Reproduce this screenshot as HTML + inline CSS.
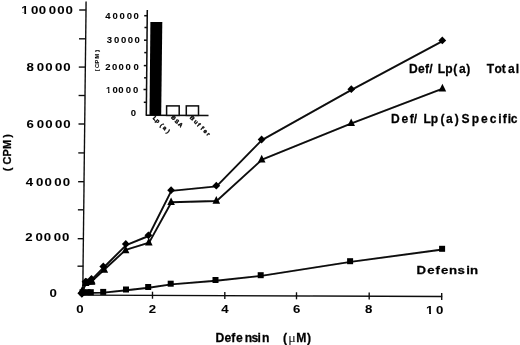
<!DOCTYPE html>
<html><head><meta charset="utf-8"><title>Defensin binding</title>
<style>
html,body{margin:0;padding:0;background:#fff;}
body{width:520px;height:345px;overflow:hidden;}
svg{display:block;}
text{font-family:"Liberation Sans",Arial,Helvetica,sans-serif;font-weight:bold;fill:#050505;stroke:#050505;stroke-width:0.06px;}
.ax{stroke:#0a0a0a;stroke-width:1.35;fill:none;}
.ln{stroke:#0a0a0a;stroke-width:1.9;fill:none;stroke-linejoin:round;}
.mk{fill:#050505;}
</style></head><body>
<svg width="520" height="345" viewBox="0 0 520 345">
<rect width="520" height="345" fill="#fff"/>
<filter id="soft" x="0" y="0" width="520" height="345" filterUnits="userSpaceOnUse"><feGaussianBlur stdDeviation="0.38"/></filter>
<g filter="url(#soft)">

<g class="ax">
<path d="M86.1,1.5L82.75,295.2"/>
<path d="M81.5,295.05L442.2,296.5" style="stroke-width:1.35"/>
<path d="M77.5,266.2L83.1,266.2"/>
<path d="M77.7,238.7L83.4,238.7"/>
<path d="M77.9,209.8L83.7,209.8"/>
<path d="M78.1,181.7L84.0,181.7"/>
<path d="M78.3,152.9L84.4,152.9"/>
<path d="M78.5,124.0L84.7,124.0"/>
<path d="M78.6,95.5L85.0,95.5"/>
<path d="M78.8,67.1L85.4,67.1"/>
<path d="M79.0,38.8L85.7,38.8"/>
<path d="M79.2,10.0L86.0,10.0"/>
<path d="M152.5,291.7L152.5,298.7"/>
<path d="M224.8,292.0L224.8,299.0"/>
<path d="M296.5,292.3L296.5,299.3"/>
<path d="M369.2,292.6L369.2,299.6"/>
<path d="M441.7,292.9L441.7,299.9"/>
</g>
<g class="ln">
<polyline points="82.1,294.0 85.7,282.4 91.7,279.6 103.7,267.5 126.2,245.1 148.6,236.0 171.3,190.9 216.5,186.4 261.8,140.2 351.5,89.9 442.5,41.1"/>
<polyline points="82.5,290.8 86.0,283.1 92.0,281.0 104.4,269.5 125.7,249.9 149.1,242.6 171.4,202.3 216.6,201.0 262.0,159.6 351.5,123.3 442.7,88.6"/>
<polyline points="83.0,293.0 88.0,292.9 91.3,292.9 103.7,292.6 126.5,290.2 148.7,287.7 171.2,284.4 216.0,280.7 261.2,275.9 350.6,261.9 442.6,249.5"/>
</g>
<g class="mk">
<path d="M82.6,285.2L85.9,278L88.6,279.2L91,275.8L95.4,284.8Z"/>
<path d="M77.4,293.2L81.9,288.7L86.4,293.2L81.9,297.7Z"/>
<path d="M78.0,293.3L81.9,289.4L85.8,293.3L81.9,297.2Z"/>
<path d="M81.6,281.7L85.5,277.8L89.4,281.7L85.5,285.6Z"/>
<path d="M87.6,278.9L91.5,275.0L95.4,278.9L91.5,282.8Z"/>
<path d="M99.4,266.5L103.3,262.6L107.2,266.5L103.3,270.4Z"/>
<path d="M121.9,244.0L125.8,240.1L129.7,244.0L125.8,247.9Z"/>
<path d="M144.5,235.3L148.4,231.4L152.3,235.3L148.4,239.2Z"/>
<path d="M167.2,190.2L171.1,186.3L175.0,190.2L171.1,194.1Z"/>
<path d="M212.4,185.7L216.3,181.8L220.2,185.7L216.3,189.6Z"/>
<path d="M257.7,139.5L261.6,135.6L265.5,139.5L261.6,143.4Z"/>
<path d="M347.4,89.2L351.3,85.3L355.2,89.2L351.3,93.1Z"/>
<path d="M438.4,40.4L442.3,36.5L446.2,40.4L442.3,44.3Z"/>
<path d="M78.4,293.6L82.2,285.9L86.0,293.6Z"/>
<path d="M81.9,285.9L85.7,278.2L89.5,285.9Z"/>
<path d="M87.9,283.8L91.7,276.1L95.5,283.8Z"/>
<path d="M100.5,272.8L104.3,265.1L108.1,272.8Z"/>
<path d="M121.8,253.3L125.6,245.6L129.4,253.3Z"/>
<path d="M145.0,245.4L148.8,237.7L152.6,245.4Z"/>
<path d="M167.3,205.1L171.1,197.4L174.9,205.1Z"/>
<path d="M212.5,203.8L216.3,196.1L220.1,203.8Z"/>
<path d="M257.9,162.4L261.7,154.7L265.5,162.4Z"/>
<path d="M347.4,126.1L351.2,118.4L355.0,126.1Z"/>
<path d="M438.6,91.4L442.4,83.7L446.2,91.4Z"/>
<rect x="79.5" y="289.3" width="6.0" height="6.0"/>
<rect x="84.5" y="289.2" width="6.0" height="6.0"/>
<rect x="87.8" y="289.2" width="6.0" height="6.0"/>
<rect x="100.2" y="288.9" width="6.0" height="6.0"/>
<rect x="123.0" y="286.5" width="6.0" height="6.0"/>
<rect x="145.2" y="284.0" width="6.0" height="6.0"/>
<rect x="167.7" y="280.7" width="6.0" height="6.0"/>
<rect x="212.5" y="277.0" width="6.0" height="6.0"/>
<rect x="257.7" y="272.2" width="6.0" height="6.0"/>
<rect x="347.1" y="258.2" width="6.0" height="6.0"/>
<rect x="439.1" y="245.8" width="6.0" height="6.0"/>
</g>
<text transform="scale(1.15,1)" clip-path="url(#c0)" style="font-size:11.5px" x="18.52" y="14.0">1</text>
<text transform="scale(1.15,1)" style="font-size:11.5px" x="26.94 33.64 42.38 49.77 57.03" y="14.0">00000</text>
<text transform="scale(1.15,1)" style="font-size:11.5px" x="23.01 31.90 39.29 47.72 55.03" y="70.6">80000</text>
<text transform="scale(1.15,1)" style="font-size:11.5px" x="23.02 31.90 39.29 47.72 55.03" y="128.2">60000</text>
<text transform="scale(1.15,1)" style="font-size:11.5px" x="22.35 31.38 38.64 47.11 54.51" y="185.9">40000</text>
<text transform="scale(1.15,1)" style="font-size:11.5px" x="22.05 30.81 38.11 46.77 53.85" y="241.3">20000</text>
<text transform="scale(1.15,1)" style="font-size:11.5px" x="43.07" y="297.4">0</text>
<text transform="scale(1.15,1)" style="font-size:11.5px" x="66.33" y="313.3">0</text>
<text transform="scale(1.15,1)" style="font-size:11.5px" x="129.27" y="313.2">2</text>
<text transform="scale(1.15,1)" style="font-size:11.5px" x="192.49" y="313.3">4</text>
<text transform="scale(1.15,1)" style="font-size:11.5px" x="254.84" y="313.3">6</text>
<text transform="scale(1.15,1)" style="font-size:11.5px" x="317.36" y="313.3">8</text>
<text transform="scale(1.15,1)" clip-path="url(#c1)" style="font-size:11.5px" x="370.52" y="313.7">1</text>
<text transform="scale(1.15,1)" style="font-size:11.5px" x="379.07" y="313.7">0</text>
<text transform="scale(0.99,1)" style="font-size:12.3px;stroke:#050505;stroke-width:0.26px" x="217.68 226.85 233.59 238.47 247.13 254.14 260.22 264.60" y="341.6">Defensin</text>
<text transform="scale(0.99,1)" style="font-size:12.3px;stroke:#050505;stroke-width:0.26px" x="285.83" y="341.6">(</text>
<text transform="scale(1.19,1)" style="font-size:11.8px;font-weight:normal;font-family:&quot;Liberation Serif&quot;,serif;fill:#222" x="242.32" y="341.6">μ</text>
<text transform="scale(0.99,1)" style="font-size:12.3px;stroke:#050505;stroke-width:0.26px" x="299.37 310.12" y="341.6">M)</text>
<text transform="translate(11.3,171.3) rotate(-90) scale(1.0,1)" style="font-size:11.0px;stroke:#050505;stroke-width:0.26px" x="0.15 6.90 14.70 22.32 33.54" y="0.0">(CPM)</text>
<text transform="scale(0.98,1)" style="font-size:12.3px;stroke:#050505;stroke-width:0.26px" x="417.40 426.60 433.60 438.04 446.68 454.36 462.55 468.35 475.85 496.75 504.66 511.98 518.40 526.26" y="73.0">Def/Lp(a)Total</text>
<text transform="scale(0.98,1)" style="font-size:12.3px;stroke:#050505;stroke-width:0.26px" x="399.08 409.76 418.14 422.32 432.14 439.61 449.39 454.98 463.97 470.91 481.35 490.89 499.84 508.50 513.14 518.09 521.26" y="123.3">Def/Lp(a)Specific</text>
<text transform="scale(1.12,1)" style="font-size:11.8px;stroke:#050505;stroke-width:0.26px" x="371.80 381.42 388.82 393.74 400.97 408.54 416.31 419.72" y="274.0">Defensin</text>
<g class="ax" style="stroke-width:1.5">
<path d="M147.3,10L146.3,115.4"/>
<path d="M145.8,115.3L208.5,115.5" style="stroke-width:1.6"/>
<path d="M143.8,102.3L146.4,102.3"/>
<path d="M143.5,89.5L146.5,89.5"/>
<path d="M144.1,77.8L146.7,77.8"/>
<path d="M143.8,65.6L146.8,65.6"/>
<path d="M144.3,52.6L146.9,52.6"/>
<path d="M144.0,40.2L147.0,40.2"/>
<path d="M144.5,27.5L147.1,27.5"/>
<path d="M144.2,15.7L147.2,15.7"/>
</g>
<path d="M150.4,21.9H162.3L161.2,115.3H149.5Z" fill="#050505"/>
<rect x="166.6" y="105.9" width="12.6" height="9.5" fill="#fff" stroke="#0a0a0a" stroke-width="1.5"/>
<rect x="186.3" y="105.9" width="12.2" height="9.5" fill="#fff" stroke="#0a0a0a" stroke-width="1.5"/>
<text transform="scale(1.06,1)" style="font-size:9.0px" x="99.39 106.09 112.79 119.67 125.85" y="19.1">40000</text>
<text transform="scale(1.06,1)" style="font-size:9.0px" x="100.67 107.50 114.06 120.57 126.94" y="43.2">30000</text>
<text transform="scale(1.06,1)" style="font-size:9.0px" x="99.36 105.71 111.89 118.40 125.85" y="70.3">20000</text>
<text transform="scale(1.06,1)" clip-path="url(#c2)" style="font-size:9.0px" x="99.91" y="93.1">1</text>
<text transform="scale(1.06,1)" style="font-size:9.0px" x="106.09 111.56 118.64 125.38" y="93.1">0000</text>
<text transform="scale(1.06,1)" style="font-size:9.0px" x="123.45" y="115.8">0</text>
<text transform="translate(99.3,71.3) rotate(-90) scale(1.0,1)" style="font-size:5.6px;stroke:#0a0a0a;stroke-width:0.08px" x="0.08 3.19 7.89 12.87 19.45" y="0.0">(CPM)</text>
<text transform="translate(152.46,118.38) rotate(45) scale(1.0,1)" style="font-size:5.6px;stroke:#0a0a0a;stroke-width:0.4px" x="0.00 3.83 10.34 14.05 19.52" y="0">Lp(a)</text>
<text transform="translate(170.66,117.84) rotate(44) scale(1.0,1)" style="font-size:5.6px;stroke:#0a0a0a;stroke-width:0.4px" x="0.00 5.14 9.96" y="0">BSA</text>
<text transform="translate(189.47,118.09) rotate(45) scale(1.0,1)" style="font-size:5.6px;stroke:#0a0a0a;stroke-width:0.4px" x="0.00 5.58 10.40 15.20 19.01 23.65" y="0">Buffer</text>
</g>
<defs><clipPath id="c0"><path d="M18.86,4.80H22.84V14.50H21.14V12.38H18.86Z"/></clipPath><clipPath id="c1"><path d="M370.86,304.50H374.84V314.20H373.14V312.08H370.86Z"/></clipPath><clipPath id="c2"><path d="M100.18,85.90H103.31V93.60H101.95V91.73H100.18Z"/></clipPath></defs>
</svg>
</body></html>
